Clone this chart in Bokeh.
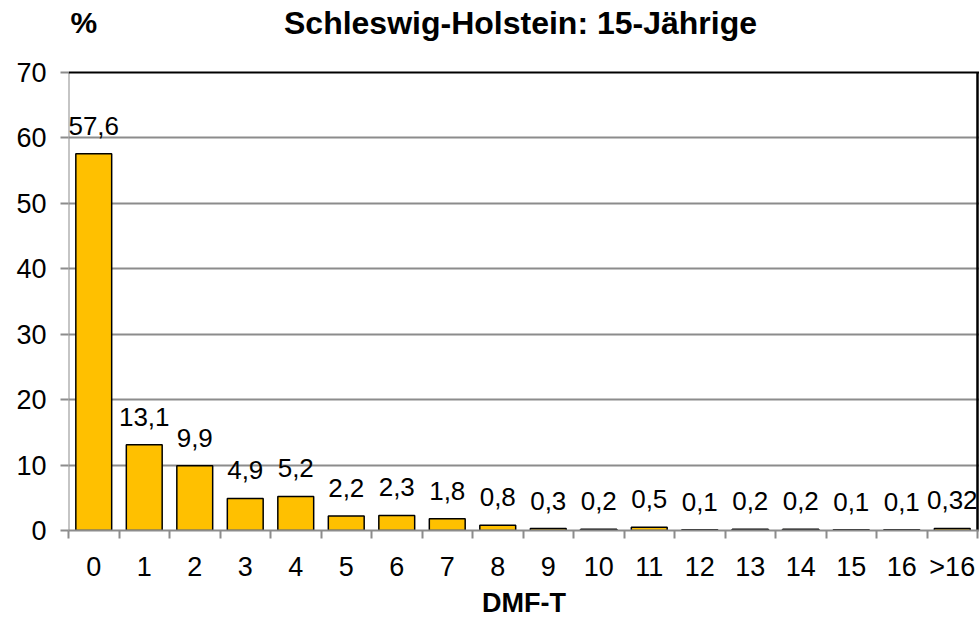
from bokeh.plotting import figure
from bokeh.models import ColumnDataSource, FixedTicker, Range1d, Label, Span
from bokeh.embed import file_html
from bokeh.resources import INLINE
from bokeh.core.properties import value

categories = ["0", "1", "2", "3", "4", "5", "6", "7", "8", "9", "10", "11", "12", "13", "14", "15", "16", ">16"]
values = [57.6, 13.1, 9.9, 4.9, 5.2, 2.2, 2.3, 1.8, 0.8, 0.3, 0.2, 0.5, 0.1, 0.2, 0.2, 0.1, 0.1, 0.32]
value_labels = ["57,6", "13,1", "9,9", "4,9", "5,2", "2,2", "2,3", "1,8", "0,8", "0,3", "0,2", "0,5", "0,1", "0,2", "0,2", "0,1", "0,1", "0,32"]
y_ticks = [0, 10, 20, 30, 40, 50, 60, 70]
y_max = 70

FONT = "Liberation Sans"
GRAY = "#8c8c8c"

W, H = 979, 620
LEFT, TOP_AXIS_PX, BOTTOM = 68, 72, 90
n = len(categories)
xs = [i + 0.5 for i in range(n)]
src = ColumnDataSource(dict(x=xs, top=values, lab=value_labels))

# frame extends to the canvas top so that title texts live inside it
frame_h = H - BOTTOM
plot_h = frame_h - TOP_AXIS_PX
y_end = y_max * frame_h / plot_h
frame_w = W - LEFT
x_end = n * frame_w / (frame_w - 2)

p = figure(width=W, height=H, output_backend="svg", toolbar_location=None,
           x_range=Range1d(0, x_end), y_range=Range1d(0, y_end),
           min_border_left=LEFT, min_border_right=0, min_border_top=0, min_border_bottom=BOTTOM)
p.outline_line_color = None

p.ygrid.ticker = FixedTicker(ticks=y_ticks[1:-1])
p.ygrid.grid_line_color = GRAY
p.ygrid.grid_line_width = 2
p.xgrid.grid_line_color = None

p.vbar(x="x", top="top", width=0.71, bottom=0, source=src,
       fill_color="#FFC000", line_color="black", line_width=1.5)
p.text(x="x", y="top", text="lab", source=src, text_align="center", text_baseline="alphabetic",
       y_offset=-28, text_font=value(FONT), text_font_size="26px", text_color="black")

# plot-area border: black top and right, gray left
p.add_layout(Span(location=y_max, dimension="width", line_color="black", line_width=2))
p.segment(x0=[n], y0=[0], x1=[n], y1=[y_max], line_color="black", line_width=2.5)
p.segment(x0=[0], y0=[0], x1=[0], y1=[y_max], line_color=GRAY, line_width=2)

# x axis
xa = p.xaxis[0]
xa.ticker = FixedTicker(ticks=xs, minor_ticks=list(range(n + 1)))
xa.major_label_overrides = {x: c for x, c in zip(xs, categories)}
xa.major_tick_out = 0
xa.major_tick_in = 0
xa.minor_tick_out = 8
xa.minor_tick_in = 0
xa.minor_tick_line_color = GRAY
xa.minor_tick_line_width = 2
xa.axis_line_color = GRAY
xa.axis_line_width = 2
xa.major_label_text_font = FONT
xa.major_label_text_font_size = "27px"
xa.major_label_text_color = "black"
xa.major_label_standoff = 13
xa.axis_label = "DMF-T"
xa.axis_label_text_font = FONT
xa.axis_label_text_font_style = "bold"
xa.axis_label_text_font_size = "27px"
xa.axis_label_text_color = "black"
xa.axis_label_standoff = 3

# y axis
ya = p.yaxis[0]
ya.ticker = FixedTicker(ticks=y_ticks)
ya.minor_tick_line_color = None
ya.major_tick_out = 8
ya.major_tick_in = 0
ya.major_tick_line_color = GRAY
ya.major_tick_line_width = 2
ya.axis_line_color = None
ya.major_label_text_font = FONT
ya.major_label_text_font_size = "27px"
ya.major_label_text_color = "black"
ya.major_label_standoff = 14

p.add_layout(Label(x=452, y=frame_h - 22, x_units="screen", y_units="screen",
                   text="Schleswig-Holstein: 15-Jährige", text_align="center",
                   text_baseline="alphabetic", text_font=FONT, text_font_style="bold",
                   text_font_size="32px", text_color="black"))
p.add_layout(Label(x=2, y=frame_h - 22, x_units="screen", y_units="screen",
                   text="%", text_align="left", text_baseline="alphabetic",
                   text_font=FONT, text_font_style="bold", text_font_size="30px",
                   text_color="black"))

open("out.html", "w").write(file_html(p, INLINE))
